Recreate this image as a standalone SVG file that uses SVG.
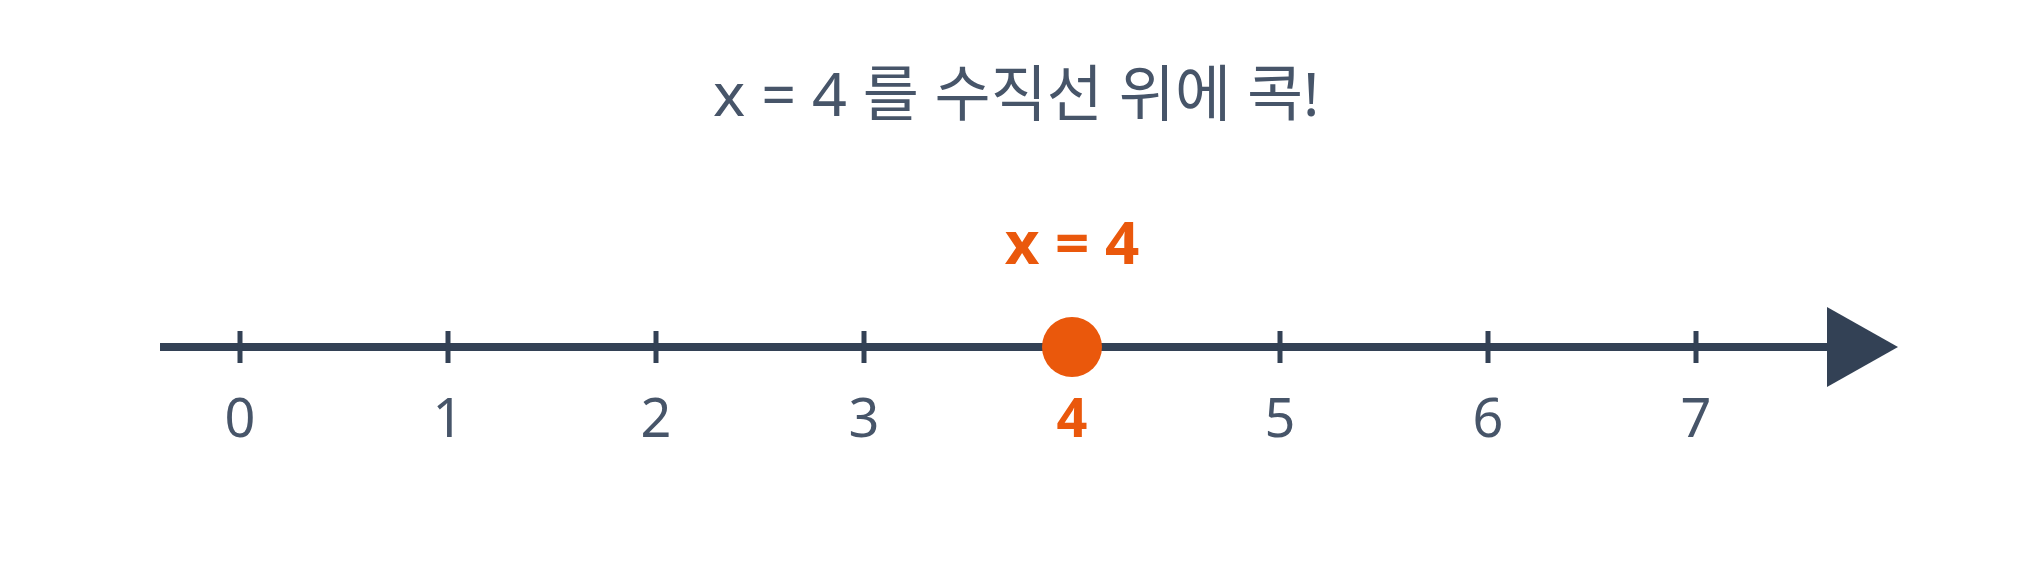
<svg xmlns="http://www.w3.org/2000/svg" width="2027" height="587" viewBox="0 0 2027 587">
<style>
.title{font-family:"Noto Sans","Noto Sans CJK KR",sans-serif;font-size:61px;fill:#475569}
.tick{stroke:#334155;stroke-width:5}
.lbl{font-family:"Noto Sans","Open Sans",sans-serif;font-size:54px;fill:#475569;text-anchor:middle}
.hl{font-family:"Noto Sans","Open Sans",sans-serif;font-weight:bold;fill:#ea580c;text-anchor:middle}
</style>
<rect width="2027" height="587" fill="#ffffff"/>
<text id="title" class="title" x="713" y="116">x = 4 를 수직선 위에 콕!</text>
<g id="connectors">
<line x1="160" y1="347" x2="1830" y2="347" stroke="#334155" stroke-width="8"/>
<polygon points="1827,307 1898,347 1827,387" fill="#334155"/>
</g>
<g id="ticks">
<line class="tick" x1="240" y1="331" x2="240" y2="363"/>
<line class="tick" x1="448" y1="331" x2="448" y2="363"/>
<line class="tick" x1="656" y1="331" x2="656" y2="363"/>
<line class="tick" x1="864" y1="331" x2="864" y2="363"/>
<line class="tick" x1="1280" y1="331" x2="1280" y2="363"/>
<line class="tick" x1="1488" y1="331" x2="1488" y2="363"/>
<line class="tick" x1="1696" y1="331" x2="1696" y2="363"/>
</g>
<g id="labels">
<text class="lbl" x="240" y="437">0</text>
<text class="lbl" x="448" y="437">1</text>
<text class="lbl" x="656" y="437">2</text>
<text class="lbl" x="864" y="437">3</text>
<text class="hl" x="1072" y="437" font-size="54">4</text>
<text class="lbl" x="1280" y="437">5</text>
<text class="lbl" x="1488" y="437">6</text>
<text class="lbl" x="1696" y="437">7</text>
</g>
<g id="point">
<circle cx="1072" cy="347" r="30" fill="#ea580c"/>
<text class="hl" x="1072" y="264" font-size="60">x = 4</text>
</g>
</svg>
